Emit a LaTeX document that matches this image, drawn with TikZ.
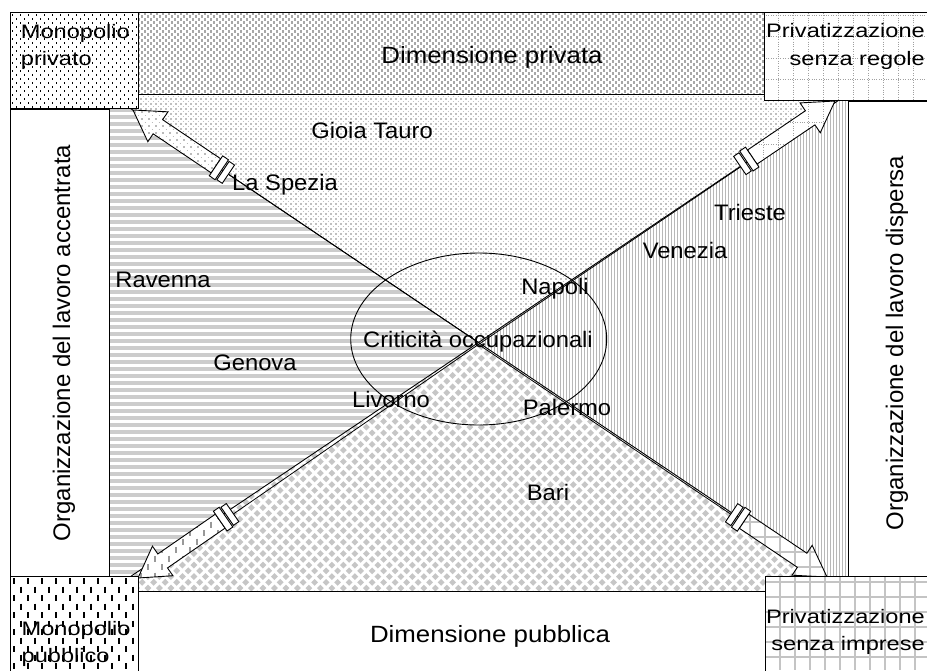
\documentclass[tikz,border=0pt]{standalone}
\usepackage{fontspec}
\setmainfont{Liberation Sans}
\newfontfamily\labfont[FakeStretch=1.06]{Liberation Sans}
\newfontfamily\bandfont[FakeStretch=1.1]{Liberation Sans}
\newfontfamily\corfont[FakeStretch=1.21]{Liberation Sans}
\usetikzlibrary{calc,shapes.geometric}

\definecolor{gband}{HTML}{A8A8A8}
\definecolor{gtop}{HTML}{C0C0C0}
\definecolor{gstripe}{HTML}{CCCCCC}
\definecolor{gv}{HTML}{B8B8B8}
\definecolor{gd}{HTML}{C6C6C6}
\definecolor{gpsr}{HTML}{A0A0A0}
\definecolor{gpsi}{HTML}{C4C4C4}
\definecolor{gul}{HTML}{BBBBBB}
\definecolor{gdash}{HTML}{999999}

% rows of small squares, staggered
\newcommand\dotrows[8]{% x1,y1,x2,y2,px,py,size,colour
  \pgfmathtruncatemacro\nrows{((#4)-(#2))/(#6)+1}%
  \pgfmathsetmacro\offd{(#5)-(#7)}%
  \foreach \k in {0,...,\nrows}{%
    \pgfmathsetmacro\yy{(#2)+\k*(#6)}%
    \pgfmathsetmacro\xo{(#1)+mod(\k,2)*(#5)/2}%
    \draw[#8, line width=#7pt, dash pattern=on #7pt off \offd pt] (\xo,\yy) -- (#3,\yy);}}
% columns of short vertical dashes, staggered
\newcommand\dashcols[8]{% x1,y1,x2,y2,px,dash,period,colour
  \pgfmathtruncatemacro\ncols{((#3)-(#1))/(#5)+1}%
  \pgfmathsetmacro\offd{(#7)-(#6)}%
  \foreach \k in {0,...,\ncols}{%
    \pgfmathsetmacro\xx{(#1)+\k*(#5)}%
    \pgfmathsetmacro\yo{(#2)-mod(\k,2)*(#7)/2}%
    \draw[#8, line width=1.3pt, dash pattern=on #6pt off \offd pt] (\xx,\yo) -- (\xx,#4);}}
\newcommand\psrtex{%
  \foreach \k in {0,...,13}{\draw[gpsr, line width=0.8pt, dash pattern=on 1pt off 1.4pt] ({733+\k*15},8) -- ({733+\k*15},215);}%
  \foreach \k in {0,...,9}{\draw[gpsr, line width=0.8pt, dash pattern=on 1pt off 1.4pt] (730,{15+\k*21.5}) -- (927,{15+\k*21.5});}}
\newcommand\psitex{%
  \foreach \k in {0,...,15}{\draw[gpsi, line width=2pt] ({705+\k*15},470) -- ({705+\k*15},670);}%
  \foreach \k in {0,...,13}{\draw[gpsi, line width=2pt] (700,{477+\k*15}) -- (927,{477+\k*15});}}
\newcommand\ultex{\dotrows{120}{98}{245}{190}{7}{3.5}{1.5}{gul}}
\newcommand\lltex{\dashcols{120}{462}{270}{600}{7}{6}{17}{gdash}}

\tikzset{
  arr/.style={draw=black, line width=0.9pt, fill=white},
  outl/.style={draw=black, line width=0.9pt},
  lab/.style={font={\labfont\fontsize{22.4}{26}\selectfont}, inner sep=0pt},
  bandlab/.style={font={\bandfont\fontsize{23.5}{27}\selectfont}, inner sep=0pt},
  cor/.style={font={\corfont\fontsize{19.5}{27}\selectfont}, inner sep=0pt},
  vlab/.style={font={\fontsize{24}{28}\selectfont}, inner sep=0pt, rotate=90, anchor=base},
}

\newdimen\sdx \newdimen\sdy
% #1 tip, #2 centre, #3 needle offset, #4 texture macro
\newcommand\syringe[4]{%
  \pgfmathanglebetweenpoints{\pgfpointanchor{#1}{center}}{\pgfpointanchor{#2}{center}}%
  \edef\sang{\pgfmathresult}%
  \pgfextractx{\sdx}{\pgfpointdiff{\pgfpointanchor{#1}{center}}{\pgfpointanchor{#2}{center}}}%
  \pgfextracty{\sdy}{\pgfpointdiff{\pgfpointanchor{#1}{center}}{\pgfpointanchor{#2}{center}}}%
  \pgfmathveclen{\sdx}{\sdy}\edef\slen{\pgfmathresult}%
  \begin{scope}[shift={(#1)}, rotate=\sang, x=1pt, y=1pt]
    \draw[line width=0.8pt] (115,#3) -- (\slen,#3);
    \coordinate (#1-0) at (0,0);
    \coordinate (#1-1) at (30,18);
    \coordinate (#1-2) at (30,8.5);
    \coordinate (#1-3) at (100,8.5);
    \coordinate (#1-4) at (100,-8.5);
    \coordinate (#1-5) at (30,-8.5);
    \coordinate (#1-6) at (30,-18);
  \end{scope}
  \fill[white] (#1-0) -- (#1-1) -- (#1-2) -- (#1-3) -- (#1-4) -- (#1-5) -- (#1-6) -- cycle;
  \begin{scope}
    \clip (#1-0) -- (#1-1) -- (#1-2) -- (#1-3) -- (#1-4) -- (#1-5) -- (#1-6) -- cycle;
    #4
  \end{scope}
  \draw[outl] (#1-0) -- (#1-1) -- (#1-2) -- (#1-3) -- (#1-4) -- (#1-5) -- (#1-6) -- cycle;
  \begin{scope}[shift={(#1)}, rotate=\sang, x=1pt, y=1pt]
    \path[arr] (100,-12) rectangle (107,12);
    \path[arr] (108.5,-11) rectangle (115,11);
  \end{scope}}

\begin{document}
\begin{tikzpicture}[x=1pt,y=-1pt]
\useasboundingbox (0,0) rectangle (927,670);
\clip (0,0) rectangle (927,670);
\fill[white] (0,0) rectangle (927,670);

\coordinate (tl) at (109,94);
\coordinate (tr) at (848,94);
\coordinate (bl) at (109,591);
\coordinate (br) at (848,591);
\coordinate (c) at (478.5,342.5);

% central quadrants
\begin{scope}
  \clip (tl) -- (tr) -- (c) -- cycle;
  \dotrows{105}{94}{850}{345}{5}{2.5}{1.7}{gtop}
\end{scope}
\begin{scope}
  \clip (tl) -- (bl) -- (c) -- cycle;
  \draw[gstripe, line width=384pt, dash pattern=on 3.5pt off 3.5pt] (298,94) -- (298,592);
\end{scope}
\begin{scope}
  \clip (tr) -- (br) -- (c) -- cycle;
  \draw[gv, line width=504pt, dash pattern=on 1.2pt off 1.8pt] (476,342.5) -- (850,342.5);
\end{scope}
\begin{scope}
  \clip (bl) -- (br) -- (c) -- cycle;
  \begin{scope}[shift={(478.5,591)}, rotate=45, x=1pt, y=1pt]
    \foreach \k in {-70,...,70}{%
      \draw[gd, line width=4.9pt, dash pattern=on 4.9pt off 3.23pt] (-600,{\k*8.132}) -- (600,{\k*8.132});}
  \end{scope}
\end{scope}

\draw[line width=0.9pt] (tl) -- (br);
\draw[line width=0.9pt] (bl) -- (tr);

\node[draw, line width=0.9pt, ellipse, minimum width=256pt, minimum height=172pt, inner sep=0pt] (ell) at (478.7,339) {};

% arrows
\coordinate (tUL) at (133,110);
\coordinate (tUR) at (835,101);
\coordinate (tLL) at (138,578);
\coordinate (tLR) at (827,577);
\syringe{tUL}{c}{0}{\ultex}
\syringe{tUR}{c}{1.6}{\psrtex}
\syringe{tLL}{c}{-1.6}{\lltex}
\syringe{tLR}{c}{1.6}{\psitex}

% bands
\path[outl, fill=white] (10,109) rectangle (109,576);
\path[outl, fill=white] (848,101) rectangle (940,576);
\fill[white] (138,12) rectangle (940,94);
\begin{scope}
  \clip (138,12) rectangle (940,94);
  \dotrows{138}{13.5}{930}{95}{6}{3}{2.4}{gband}
\end{scope}
\draw[outl] (138,12) rectangle (940,94);
\path[outl, fill=white] (138,591) rectangle (940,680);

% corner boxes
\fill[white] (10,12) rectangle (138,108.5);
\begin{scope}
  \clip (10,12) rectangle (138,108.5);
  \dotrows{12}{15}{140}{110}{8}{4}{1.1}{black}
\end{scope}
\draw[outl] (10,12) rectangle (138,108.5);

\fill[white] (764.5,12) rectangle (940,100.7);
\begin{scope}
  \clip (764.5,12) rectangle (940,100.7);
  \psrtex
\end{scope}
\draw[outl] (764.5,12) rectangle (940,100.7);

\fill[white] (10,576) rectangle (138,680);
\begin{scope}
  \clip (10,576) rectangle (138,680);
  \dashcols{14}{578}{140}{672}{7}{6}{17}{black}
\end{scope}
\draw[outl] (10,576) rectangle (138,680);

\fill[white] (765,576.7) rectangle (940,680);
\begin{scope}
  \clip (765,576.7) rectangle (940,680);
  \psitex
\end{scope}
\draw[outl] (765,576.7) rectangle (940,680);

% labels
\node[bandlab, anchor=base] (dpriv) at (492,63) {Dimensione privata};
\node[bandlab, anchor=base] (dpub) at (490,642) {Dimensione pubblica};
\node[lab, anchor=base] (gioia) at (372,138) {Gioia Tauro};
\node[lab, anchor=base west] (spezia) at (232,190) {La Spezia};
\node[lab, anchor=base] (trieste) at (750,220) {Trieste};
\node[lab, anchor=base] (venezia) at (685,258) {Venezia};
\node[lab, anchor=base] (ravenna) at (163,287) {Ravenna};
\node[lab, anchor=base] (napoli) at (555,294.3) {Napoli};
\node[lab, anchor=base] (crit) at (478,347.7) {Criticità occupazionali};
\node[lab, anchor=base] (genova) at (255,370) {Genova};
\node[lab, anchor=base] (livorno) at (391,407.7) {Livorno};
\node[lab, anchor=base] (palermo) at (567,415.7) {Palermo};
\node[lab, anchor=base] (bari) at (548,500) {Bari};

\node[cor, anchor=base west] (mp1) at (20.7,38) {Monopolio};
\node[cor, anchor=base west] (mp2) at (20.7,65) {privato};
\node[cor, anchor=base east] (psr1) at (925,37) {Privatizzazione};
\node[cor, anchor=base east] (psr2) at (925,65) {senza regole};
\node[cor, anchor=base west] (mpb1) at (21.5,635) {Monopolio};
\node[cor, anchor=base west] (mpb2) at (21.5,662) {pubblico};
\node[cor, anchor=base east] (psi1) at (925,623) {Privatizzazione};
\node[cor, anchor=base east] (psi2) at (925,650) {senza imprese};

\node[vlab] (ola) at (70,343) {Organizzazione del lavoro accentrata};
\node[vlab] (old) at (903,343) {Organizzazione del lavoro dispersa};
\end{tikzpicture}
\end{document}
